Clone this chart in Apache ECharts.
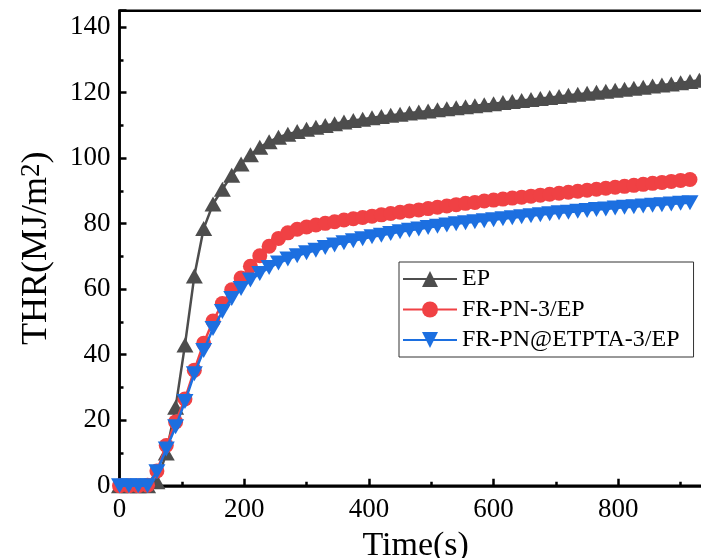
<!DOCTYPE html>
<html>
<head>
<meta charset="utf-8">
<style>
  html, body { margin: 0; padding: 0; background: #fff; overflow: hidden; }
  #chart { width: 701px; height: 558px; }
</style>
<script src="https://cdn.jsdelivr.net/npm/echarts@6/dist/echarts.min.js"></script>
</head>
<body>
<div id="chart"></div>
<script>
// Total heat release curves, sampled every 15 s
const seriesNames = ['EP', 'FR-PN-3/EP', 'FR-PN@ETPTA-3/EP'];

const timeEP = [0,15,30,45,60,75,90,105,120,135,150,165,180,195,210,225,240,255,270,285,300,315,330,345,360,375,390,405,420,435,450,465,480,495,510,525,540,555,570,585,600,615,630,645,660,675,690,705,720,735,750,765,780,795,810,825,840,855,870,885,900,915,930];
const thrEP = [0,0,0,0,1.2,10,24,43,64,78.5,86,90.5,94.8,98.2,101,103.3,105,106.4,107.3,108.1,108.8,109.4,110,110.5,111,111.5,111.9,112.3,112.7,113.1,113.4,113.8,114.1,114.4,114.8,115.1,115.4,115.7,116,116.3,116.6,117,117.3,117.6,117.9,118.2,118.5,118.8,119.2,119.5,119.8,120.1,120.4,120.7,121,121.3,121.6,122,122.3,122.6,123,123.4,123.8];

const timeFR = [0,15,30,45,60,75,90,105,120,135,150,165,180,195,210,225,240,255,270,285,300,315,330,345,360,375,390,405,420,435,450,465,480,495,510,525,540,555,570,585,600,615,630,645,660,675,690,705,720,735,750,765,780,795,810,825,840,855,870,885,900,915];
const thrPN = [0,0,0,0.2,4.5,12.3,19.5,26.5,35.3,43.5,50.3,55.6,59.8,63.4,67,70.2,73.1,75.5,77.2,78.3,79,79.6,80.1,80.6,81.1,81.5,81.9,82.3,82.7,83.1,83.5,83.9,84.2,84.6,85,85.4,85.8,86.2,86.5,86.9,87.2,87.5,87.8,88.1,88.4,88.7,89,89.3,89.6,89.9,90.2,90.5,90.8,91.1,91.4,91.7,92,92.3,92.6,92.9,93.2,93.5];
const thrETPTA = [0,0,0,0,4.3,11.2,18,25.7,34.2,41.3,48,53.2,57.2,60.2,62.8,64.8,66.6,68,69.2,70.2,71.1,71.9,72.7,73.5,74.2,74.8,75.4,76,76.5,77,77.5,78,78.4,78.8,79.2,79.6,80,80.3,80.6,80.9,81.2,81.5,81.8,82.1,82.4,82.7,83,83.3,83.5,83.8,84,84.3,84.5,84.8,85,85.2,85.4,85.6,85.8,86,86.2,86.4];

const xTickStep = 200;
const yTickStep = 20;

// Pick the first installed Times-like face; a family is present when its
// metrics differ from the monospace fallback.
function pickFont(candidates) {
  const ctx = document.createElement('canvas').getContext('2d');
  const sample = 'THR(MJ/m2) Time(s) 0123456789 FR-PN@ETPTA';
  ctx.font = '40px monospace';
  const base = ctx.measureText(sample).width;
  for (const name of candidates) {
    ctx.font = "40px '" + name + "', monospace";
    if (Math.abs(ctx.measureText(sample).width - base) > 0.5) return "'" + name + "'";
  }
  return 'serif';
}
const FONT = pickFont(['Liberation Serif', 'Times New Roman', 'Tinos', 'DejaVu Serif', 'Noto Serif']);
const colors = ['#4d4d4d', '#f04144', '#1c6fe0'];

function pairs(xs, ys) { return xs.map((x, i) => [x, ys[i]]); }

const chart = echarts.init(document.getElementById('chart'), null, { renderer: 'canvas' });

chart.setOption({
  animation: false,
  backgroundColor: '#fff',
  textStyle: { fontFamily: FONT },
  grid: {
    left: 119.5, top: 10.7, right: -10.8, bottom: 72.2,
    outerBoundsMode: 'none', containLabel: false,
    show: true, borderColor: '#000', borderWidth: 2.5, backgroundColor: 'transparent'
  },
  legend: {
    orient: 'vertical',
    left: 399, top: 262,
    padding: [5, 14, 5, 3],
    itemWidth: 54, itemHeight: 20, itemGap: 6.5,
    borderColor: '#333', borderWidth: 1, borderRadius: 0,
    textStyle: { fontFamily: FONT, fontSize: 24, color: '#000' },
    data: seriesNames
  },
  xAxis: {
    type: 'value', min: 0, max: 950, interval: xTickStep,
    name: 'Time(s)', nameLocation: 'middle', nameGap: 30,
    nameTextStyle: { fontFamily: FONT, fontSize: 34, color: '#000' },
    axisLine: { lineStyle: { color: '#000', width: 2.5 } },
    axisTick: { inside: true, length: 7, lineStyle: { color: '#000', width: 2.5 } },
    minorTick: { show: true, splitNumber: 2, length: 4, lineStyle: { color: '#000', width: 2.5 } },
    axisLabel: {
      fontFamily: FONT, fontSize: 27, color: '#000', margin: 11,
      formatter: v => (v % xTickStep === 0 ? String(v) : '')
    },
    splitLine: { show: false }
  },
  yAxis: {
    type: 'value', min: 0, max: 145, interval: yTickStep,
    name: 'THR(MJ/m{sup|2})', nameLocation: 'middle', nameGap: 65,
    nameTextStyle: {
      fontFamily: FONT, fontSize: 36, lineHeight: 36, color: '#000',
      rich: { sup: { fontFamily: FONT, fontSize: 27, lineHeight: 12, verticalAlign: 'top', color: '#000' } }
    },
    axisLine: { lineStyle: { color: '#000', width: 2.5 } },
    axisTick: { inside: true, length: 7, lineStyle: { color: '#000', width: 2.5 } },
    minorTick: { show: true, splitNumber: 2, length: 4, lineStyle: { color: '#000', width: 2.5 } },
    axisLabel: {
      fontFamily: FONT, fontSize: 27, color: '#000', margin: 9,
      formatter: v => (v % yTickStep === 0 ? String(v) : '')
    },
    splitLine: { show: false }
  },
  series: [
    {
      name: seriesNames[0], type: 'line', data: pairs(timeEP, thrEP),
      symbol: 'triangle', symbolSize: [17, 15], showAllSymbol: true,
      color: colors[0], lineStyle: { width: 2.5, color: colors[0] },
      itemStyle: { color: colors[0] }, z: 2
    },
    {
      name: seriesNames[1], type: 'line', data: pairs(timeFR, thrPN),
      symbol: 'circle', symbolSize: 15, showAllSymbol: true,
      color: colors[1], lineStyle: { width: 2.5, color: colors[1] },
      itemStyle: { color: colors[1] }, z: 3
    },
    {
      name: seriesNames[2], type: 'line', data: pairs(timeFR, thrETPTA),
      symbol: 'triangle', symbolRotate: 180, symbolSize: [17, 15], showAllSymbol: true,
      color: colors[2], lineStyle: { width: 2.5, color: colors[2] },
      itemStyle: { color: colors[2] }, z: 4
    }
  ]
});
</script>
</body>
</html>
